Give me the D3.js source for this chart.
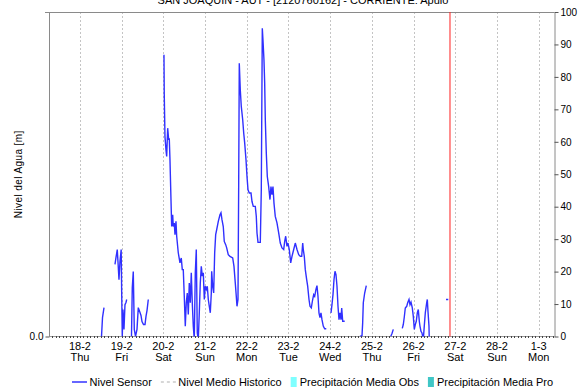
<!DOCTYPE html>
<html>
<head>
<meta charset="utf-8">
<script src="https://cdn.jsdelivr.net/npm/d3@7"></script>
<style>
  body { margin: 0; background: #fff; }
  svg { display: block; font-family: 'Liberation Sans', Arial, sans-serif; }
</style>
</head>
<body>
<div class="chart"></div>
<script>
'use strict';

const TITLE = 'SAN JOAQUIN - AUT - [2120760162] - CORRIENTE: Apulo';
const LEVEL_LABEL = 'Nivel del Agua [m]';

// days of Feb 2021 (29 = 1-3), level read against the 0-100 grid; null = gap
const sensor = [
  [18.516, 0], [18.540, 5.8], [18.576, 8.9], null,
  [18.839, 22.2], [18.863, 24.3], [18.894, 26.8], [18.911, 23.1], [18.935, 17.5], [18.959, 23.1],
  [18.988, 26.8], [19.000, 13.5], [19.014, 0], [19.031, 8.3], [19.055, 2.2], [19.079, 9.8],
  [19.103, 10.5], [19.120, 11.4], null,
  [19.235, 0], [19.254, 15], [19.278, 20], [19.302, 2.2], [19.331, 0], [19.367, 2.2],
  [19.398, 8.9], [19.439, 7.4], [19.463, 6.5], [19.487, 4.6], [19.523, 3.7], [19.559, 3.7],
  [19.583, 6.2], [19.607, 8.0], [19.638, 11.4], null,
  [20.014, 86.8], [20.021, 74.5], [20.038, 61.6], [20.062, 57.5], [20.079, 55.5], [20.103, 64.2],
  [20.127, 60.6], [20.141, 61.1], [20.158, 54.5], [20.182, 42.2], [20.199, 33.9], [20.223, 37.5],
  [20.237, 33.9], [20.261, 35.0], [20.278, 31.4], [20.302, 35.5], [20.319, 30.9], [20.357, 25.8],
  [20.398, 22.7], [20.429, 24.2], [20.453, 20.6], [20.477, 20.6], [20.501, 12.4], [20.525, 3.2],
  [20.549, 10.4], [20.573, 13.4], [20.597, 6.8], [20.621, 16.5], [20.645, 10.4], [20.669, 19.6],
  [20.693, 10.4], [20.717, 3.2], [20.741, -1], [20.765, 19.6], [20.789, 26.8], [20.813, 1.1],
  [20.837, -1], [20.861, 7.3], [20.885, 16.5], [20.909, 21.6], [20.933, 18.6], [20.957, 19.6],
  [20.981, 11.4], [21.005, 15.5], [21.029, 14.5], [21.053, 15.5], [21.077, 11.4], [21.101, 9.3],
  [21.125, 7.3], [21.149, 13.4], [21.158, 20.1], [21.182, 15.5], [21.206, 13.4], [21.230, 25.8],
  [21.254, 31.4], [21.278, 32.9], [21.317, 35.5], [21.357, 37.5], [21.381, 38.1], [21.405, 36.0],
  [21.436, 33.9], [21.460, 29.3], [21.494, 28.3], [21.518, 27.3], [21.556, 25.2], [21.597, 24.7],
  [21.662, 24.2], [21.693, 21.6], [21.724, 16.5], [21.748, 12.4], [21.765, 9.3], [21.789, 11.4],
  [21.806, 47.3], [21.820, 84.2], [21.844, 76.0], [21.868, 70.9], [21.902, 66.8], [21.926, 62.7],
  [21.950, 59.6], [21.981, 54.5], [22.005, 49.3], [22.029, 45.2], [22.060, 44.2], [22.101, 44.2],
  [22.125, 41.6], [22.156, 40.1], [22.204, 40.1], [22.228, 37.0], [22.245, 31.9], [22.269, 29.0],
  [22.324, 29.0], [22.348, 45.2], [22.372, 95.0], [22.388, 91.4], [22.412, 85.2], [22.429, 78.1],
  [22.444, 66.8], [22.468, 56.5], [22.492, 49.3], [22.525, 46.2], [22.556, 42.2], [22.580, 46.2],
  [22.604, 43.7], [22.628, 46.2], [22.652, 41.1], [22.683, 37.0], [22.724, 35.0], [22.765, 31.9],
  [22.803, 28.8], [22.844, 27.3], [22.885, 26.8], [22.909, 29.3], [22.933, 30.9], [22.964, 27.8],
  [22.988, 28.8], [23.019, 26.8], [23.053, 22.7], [23.084, 24.7], [23.125, 26.8], [23.163, 28.8],
  [23.204, 26.8], [23.245, 25.2], [23.283, 24.7], [23.317, 24.7], [23.341, 28.8], [23.355, 26.8],
  [23.379, 24.7], [23.403, 20.6], [23.436, 17.5], [23.460, 15.5], [23.492, 11.4], [23.516, 9.3],
  [23.547, 8.8], [23.580, 11.4], [23.604, 12.9], [23.628, 12.4], [23.659, 14.5], [23.683, 15.7],
  [23.707, 12.4], [23.731, 7.3], [23.755, 5.8], [23.779, 7.3], [23.803, 5.2], [23.834, 3.2],
  [23.868, 2.4], [23.906, 2.4], null,
  [24.019, 7.3], [24.043, 9.8], [24.067, 12.9], [24.091, 17.5], [24.115, 20.1], [24.139, 19.1],
  [24.163, 15.5], [24.187, 9.3], [24.211, 5.2], [24.235, 7.3], [24.259, 5.2], [24.276, 8.8],
  [24.300, 4.7], [24.348, 4.7], null,
  [24.715, 0], [24.763, 0.3], [24.779, 4.2], [24.794, 10.4], [24.827, 13.4], [24.866, 15.7], null,
  [25.451, 0], [25.482, 0.9], [25.513, 2.2], null,
  [25.729, 2.5], [25.753, 3.7], [25.777, 6.0], [25.801, 8.8], [25.835, 9.3], [25.858, 10.4],
  [25.890, 11.4], [25.914, 9.8], [25.938, 10.6], [25.969, 8.8], [25.993, 6.2], [26.017, 2.2],
  [26.041, 3.7], [26.065, 4.7], [26.089, 7.3], [26.113, 8.3], [26.137, 4.7], [26.153, 3.2],
  [26.177, 1.6], [26.201, 1.1], [26.233, -1], [26.256, 3.2], [26.281, 7.3], [26.314, 10.4],
  [26.329, 11.4], [26.345, 7.8], [26.369, 3.2], [26.376, -1], null,
  [26.777, 11.4], [26.832, 11.4]
];

const NOW_DAY = 26.873;
const VIEW_DAYS = [17.257, 29.367];
const PRECIP_TICKS = [0, 10, 20, 30, 40, 50, 60, 70, 80, 90, 100];
const LEVEL_TICKS = [0];

const legendItems = [
  {name: 'Nivel Sensor', kind: 'line', color: '#0000ff'},
  {name: 'Nivel Medio Historico', kind: 'dash', color: '#b0b0b0'},
  {name: 'Precipitación Media Obs', kind: 'rect', color: '#7fffff'},
  {name: 'Precipitación Media Pro', kind: 'rect', color: '#3fc6c6'}
];


const WIDTH = 580;
const HEIGHT = 391;
const LEFT = 49, RIGHT = 554, TOP = 12, BOTTOM = 336.5;

function dayToDate(d) {
  return new Date(Date.UTC(2021, 1, 1) + (d - 1) * 864e5);
}

const svg = d3.select('.chart')
  .append('svg')
    .attr('width', WIDTH)
    .attr('height', HEIGHT);

const x = d3.scaleUtc()
    .domain(VIEW_DAYS.map(dayToDate))
    .range([LEFT, RIGHT]);

const precipY = d3.scaleLinear().domain([0, 100]).range([BOTTOM, TOP]);
const levelY = d3.scaleLinear().domain([0, 100]).range([BOTTOM, TOP]);

svg.append('clipPath').attr('id', 'plot')
  .append('rect')
    .attr('x', LEFT).attr('y', TOP)
    .attr('width', RIGHT - LEFT).attr('height', BOTTOM - TOP);

// title, cut by the top edge as in the source
svg.append('text')
    .attr('x', 303)
    .attr('y', 4)
    .attr('text-anchor', 'middle')
    .attr('font-size', 11)
    .text(TITLE);

// day grid
const days = d3.utcDay.range(dayToDate(18), dayToDate(29.5));

svg.append('g')
  .selectAll('line')
  .data(days)
  .enter().append('line')
    .attr('x1', (d) => Math.round(x(d)) + 0.5)
    .attr('x2', (d) => Math.round(x(d)) + 0.5)
    .attr('y1', TOP)
    .attr('y2', BOTTOM)
    .attr('stroke', '#c4c4c4')
    .attr('stroke-dasharray', '2,2');

// frame
svg.append('line')
    .attr('x1', LEFT - 4).attr('x2', RIGHT)
    .attr('y1', TOP + 0.5).attr('y2', TOP + 0.5)
    .attr('stroke', '#8a8a8a');

svg.append('line')
    .attr('x1', LEFT + 0.5).attr('x2', LEFT + 0.5)
    .attr('y1', TOP).attr('y2', BOTTOM)
    .attr('stroke', '#8a8a8a');

// bottom axis: line with small ticks
const hours = d3.utcHour.every(2).range(x.domain()[0], x.domain()[1]);

svg.append('line')
    .attr('x1', LEFT).attr('x2', RIGHT)
    .attr('y1', BOTTOM).attr('y2', BOTTOM)
    .attr('stroke', '#9a9a9a');

svg.append('g')
  .selectAll('line')
  .data(hours)
  .enter().append('line')
    .attr('x1', (d) => Math.round(x(d)) + 0.5)
    .attr('x2', (d) => Math.round(x(d)) + 0.5)
    .attr('y1', BOTTOM - 0.5)
    .attr('y2', BOTTOM + 1.5)
    .attr('stroke', '#444');

const dayLabels = svg.append('g')
    .attr('font-family', "'Liberation Sans Narrow', 'Arial Narrow', 'Liberation Sans', sans-serif")
    .attr('font-size', 11)
    .attr('text-anchor', 'middle');

dayLabels.selectAll('.dm')
  .data(days)
  .enter().append('text')
    .attr('class', 'dm')
    .attr('x', (d) => x(d))
    .attr('y', 350)
    .text(d3.utcFormat('%-d-%-m'));

dayLabels.selectAll('.wd')
  .data(days)
  .enter().append('text')
    .attr('class', 'wd')
    .attr('x', (d) => x(d))
    .attr('y', 361)
    .text(d3.utcFormat('%a'));

// right axis, precipitation
const rightAxis = svg.append('g')
    .attr('transform', `translate(${RIGHT + 0.5},0)`)
    .call(d3.axisRight(precipY)
        .tickValues(PRECIP_TICKS)
        .tickSize(4)
        .tickSizeOuter(0)
        .tickPadding(2));

rightAxis.select('.domain').attr('stroke', '#8a8a8a');
rightAxis.selectAll('.tick line').attr('stroke', '#555');
rightAxis.selectAll('text').attr('font-size', 10).attr('fill', '#000')
    .attr('font-family', "'Liberation Sans', Arial, sans-serif");

// left axis, level
const leftAxis = svg.append('g')
    .attr('transform', `translate(${LEFT + 0.5},0)`)
    .call(d3.axisLeft(levelY)
        .tickValues(LEVEL_TICKS)
        .tickFormat(d3.format('.1f'))
        .tickSize(4)
        .tickSizeOuter(0)
        .tickPadding(2));

leftAxis.select('.domain').remove();
leftAxis.selectAll('.tick line').attr('stroke', '#555');
leftAxis.selectAll('text').attr('font-size', 10).attr('fill', '#000')
    .attr('font-family', "'Liberation Sans', Arial, sans-serif");

svg.append('text')
    .attr('transform', `translate(22,${(TOP + BOTTOM) / 2}) rotate(-90)`)
    .attr('text-anchor', 'middle')
    .attr('font-size', 10)
    .attr('letter-spacing', 0.4)
    .text(LEVEL_LABEL);

// sensor line
const line = d3.line()
    .defined((d) => d !== null)
    .x((d) => x(dayToDate(d[0])))
    .y((d) => levelY(d[1]));

svg.append('path')
    .datum(sensor)
    .attr('clip-path', 'url(#plot)')
    .attr('fill', 'none')
    .attr('stroke', '#3030ff')
    .attr('stroke-width', 1.4)
    .attr('d', line);

// now marker
svg.append('line')
    .attr('x1', x(dayToDate(NOW_DAY)))
    .attr('x2', x(dayToDate(NOW_DAY)))
    .attr('y1', TOP)
    .attr('y2', BOTTOM)
    .attr('stroke', '#ff2020')
    .attr('stroke-width', 1);

// legend
const legend = svg.append('g')
    .attr('font-size', 11);

let cursor = 72;
legendItems.forEach((item) => {
  let g = legend.append('g');
  let symbolW;
  if (item.kind === 'rect') {
    g.append('rect')
        .attr('x', cursor).attr('y', 377)
        .attr('width', 6).attr('height', 10)
        .attr('fill', item.color);
    symbolW = 9;
  } else {
    g.append('line')
        .attr('x1', cursor).attr('x2', cursor + 15)
        .attr('y1', 382).attr('y2', 382)
        .attr('stroke', item.color)
        .attr('stroke-width', 1.2)
        .attr('stroke-dasharray', item.kind === 'dash' ? '3,3' : null);
    symbolW = 17.5;
  }
  let t = g.append('text')
      .attr('x', cursor + symbolW)
      .attr('y', 386)
      .text(item.name);
  cursor += symbolW + t.node().getComputedTextLength() + 9;
});
</script>
</body>
</html>
